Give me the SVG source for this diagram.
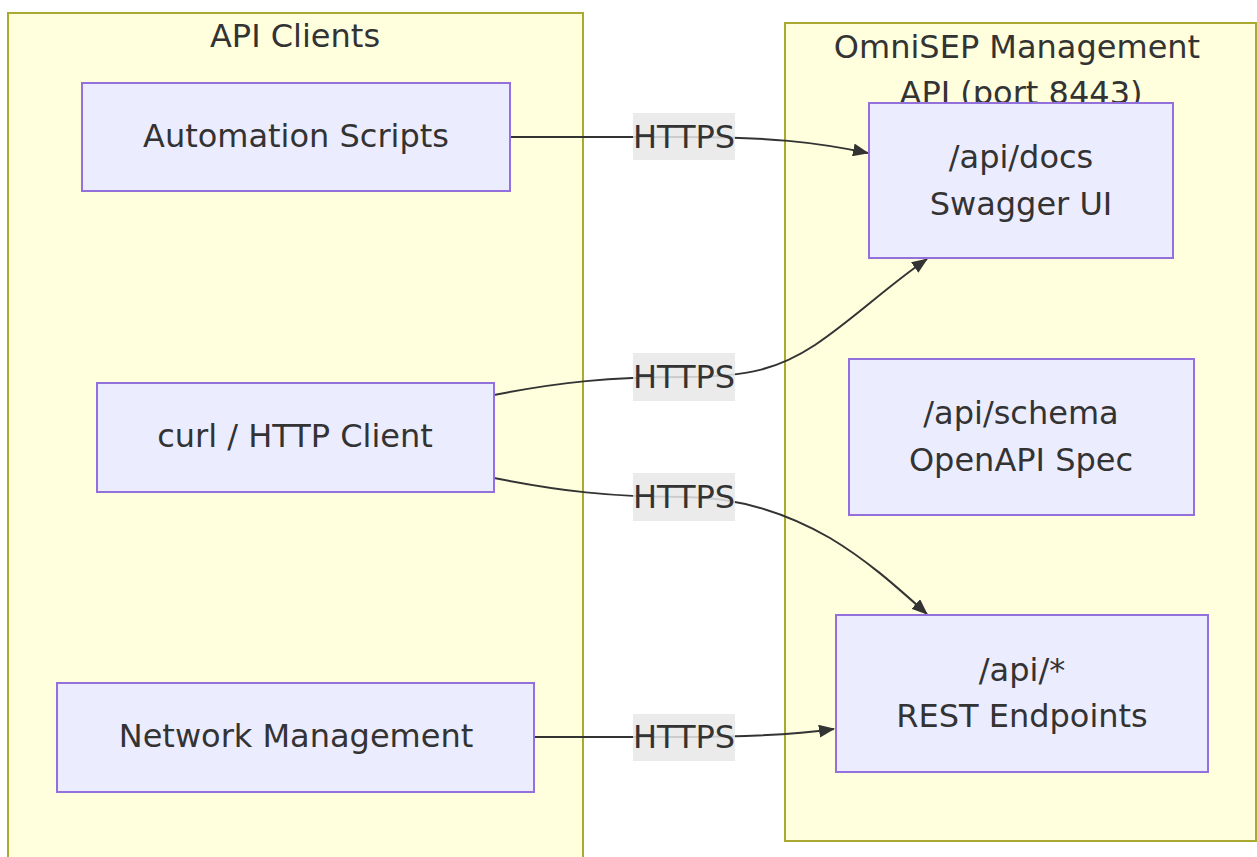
<svg xmlns="http://www.w3.org/2000/svg" width="1257" height="857" viewBox="0 0 1257 857">
<defs>
<style>
.cluster rect{fill:#ffffde;stroke:#aaaa33;stroke-width:2}
.node rect{fill:#ececff;stroke:#9370db;stroke-width:2}
text{font-family:"DejaVu Sans",Verdana,sans-serif;font-size:32px;fill:#333;text-anchor:middle;dominant-baseline:central}
.edge{fill:none;stroke:#333;stroke-width:2}
.lbl rect{fill:#e8e8e8;opacity:0.85}
</style>
<marker id="arr" viewBox="0 0 16 13" refX="15" refY="6.5" markerWidth="16" markerHeight="13" markerUnits="userSpaceOnUse" orient="auto">
<path d="M0,0 L16,6.5 L0,13 z" fill="#333"/>
</marker>
</defs>
<rect width="1257" height="857" fill="#ffffff"/>
<g id="cluster-clients" class="cluster">
<rect x="8" y="13" width="575" height="860"/>
<text x="295" y="36">API Clients</text>
</g>
<g id="cluster-api" class="cluster">
<rect x="785" y="23" width="471" height="818"/>
<text x="1017" y="47">OmniSEP Management</text>
<text x="1021" y="93">API (port 8443)</text>
</g>
<g id="connectors">
<path class="edge" d="M510,137 L684,137 C770,137 815,142 868,153" marker-end="url(#arr)"/>
<path class="edge" d="M494,395 C560,382 610,377 684,377 C750,377 780,368 815,345 C855,318 885,288 927,259" marker-end="url(#arr)"/>
<path class="edge" d="M494,478 C560,491 610,497 684,497 C740,497 790,515 830,538 C870,562 900,590 927,614" marker-end="url(#arr)"/>
<path class="edge" d="M534,737 L684,737 C760,737 800,734 834,729" marker-end="url(#arr)"/>
<g class="lbl">
<rect x="633" y="113" width="102" height="47"/>
<text x="684" y="137">HTTPS</text>
<rect x="633" y="353" width="102" height="48"/>
<text x="684" y="377">HTTPS</text>
<rect x="633" y="473" width="102" height="48"/>
<text x="684" y="497">HTTPS</text>
<rect x="633" y="714" width="102" height="47"/>
<text x="684" y="737">HTTPS</text>
</g>
</g>
<g id="node-automation" class="node">
<rect x="82" y="83" width="428" height="108"/>
<text x="296" y="136">Automation Scripts</text>
</g>
<g id="node-curl" class="node">
<rect x="97" y="383" width="397" height="109"/>
<text x="295" y="436">curl / HTTP Client</text>
</g>
<g id="node-network" class="node">
<rect x="57" y="683" width="477" height="109"/>
<text x="296" y="736">Network Management</text>
</g>
<g id="node-docs" class="node">
<rect x="869" y="103" width="304" height="155"/>
<text x="1021" y="157">/api/docs</text>
<text x="1021" y="204">Swagger UI</text>
</g>
<g id="node-schema" class="node">
<rect x="849" y="359" width="345" height="156"/>
<text x="1021" y="413">/api/schema</text>
<text x="1021" y="460">OpenAPI Spec</text>
</g>
<g id="node-rest" class="node">
<rect x="836" y="615" width="372" height="157"/>
<text x="1022" y="670">/api/*</text>
<text x="1022" y="716">REST Endpoints</text>
</g>
</svg>
